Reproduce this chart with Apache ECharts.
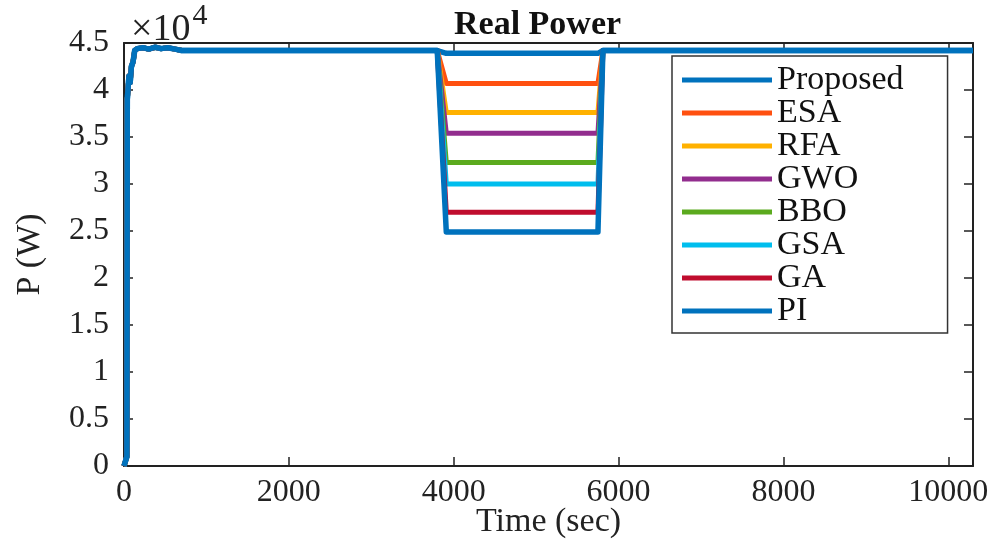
<!DOCTYPE html>
<html>
<head>
<meta charset="utf-8">
<script src="https://cdn.jsdelivr.net/npm/echarts@6/dist/echarts.min.js"></script>
<style>
  html, body { margin: 0; padding: 0; background: #fff; }
  #chart { width: 1008px; height: 540px; }
</style>
</head>
<body>
<div id="chart"></div>
<script>
// time axis shared by every method (sec)
var time = [0, 35, 40, 60, 75, 90, 110, 130, 160, 230, 300, 380, 450, 530, 620, 700, 3800, 3910, 5750, 5810, 10300];

// start-up transient, same for all methods (W)
var startup = [0, 1000, 39000, 41500, 40800, 42500, 43000, 44200, 44400, 44500, 44350, 44550, 44400, 44500, 44350, 44200];

// level held during the disturbance (W)
var steady = 44200;
var names = ['Proposed', 'ESA', 'RFA', 'GWO', 'BBO', 'GSA', 'GA', 'PI'];
var dipLevel = [43900, 40700, 37600, 35400, 32300, 30000, 27000, 24900];
var colors = ['#0072BD', '#FF5010', '#FFB100', '#922D8E', '#5BAA1E', '#00BEEE', '#C00D2E', '#0072BD'];

var xTicks = { min: 0, max: 10300, interval: 2000 };
var yTicks = { min: 0, max: 45000, interval: 5000 };

var serif = 'Liberation Serif';

var series = [];
names.forEach(function (name, k) {
    var values = startup.concat([steady, dipLevel[k], dipLevel[k], steady, steady]);
    var data = [];
    for (var i = 0; i < time.length; i++) {
        data.push([time[i], values[i]]);
    }
    series.push({
        name: name,
        type: 'line',
        data: data,
        showSymbol: false,
        symbol: 'none',
        animation: false,
        lineStyle: { color: colors[k], width: k == 7 || k == 0 ? 5.5 : 5, join: 'round' },
        itemStyle: { color: colors[k] }
    });
});

var chart = echarts.init(document.getElementById('chart'));

var axisLine = { show: true, onZero: false, lineStyle: { color: '#222', width: 2 } };
var axisTick = { show: true, inside: true, length: 9, lineStyle: { color: '#222', width: 1.5 } };

var option = {
    backgroundColor: '#fff',
    title: [{
        text: 'Real Power',
        left: 449,
        top: 3,
        textStyle: { fontFamily: serif, fontWeight: 'bold', fontSize: 34, color: '#111' }
    }, {
        text: '{a|×10}{b|4}',
        left: 126,
        top: -6,
        textStyle: {
            fontWeight: 'normal',
            rich: {
                a: { fontFamily: serif, fontSize: 38, fontWeight: 'normal', color: '#222', padding: [12, 0, 0, 0] },
                b: { fontFamily: serif, fontSize: 30, fontWeight: 'normal', color: '#222', padding: [0, 0, 16, 2] }
            }
        }
    }],
    grid: { left: 124, right: 35, top: 43, bottom: 74, outerBoundsMode: 'none', containLabel: false },
    legend: {
        data: names,
        orient: 'vertical',
        left: 672,
        top: 56,
        icon: 'rect',
        itemWidth: 90,
        itemHeight: 5,
        itemGap: -1,
        padding: [7, 44, 5, 10],
        backgroundColor: '#fff',
        borderColor: '#333',
        borderWidth: 1.5,
        borderRadius: 0,
        textStyle: { fontFamily: serif, fontSize: 34, color: '#111' }
    },
    xAxis: [{
        type: 'value',
        min: xTicks.min,
        max: xTicks.max,
        interval: xTicks.interval,
        name: 'Time (sec)',
        nameLocation: 'middle',
        nameGap: 39,
        nameMoveOverlap: false,
        nameTextStyle: { fontFamily: serif, fontSize: 34, color: '#222' },
        axisLine: axisLine,
        axisTick: axisTick,
        splitLine: { show: false },
        axisLabel: {
            fontFamily: serif, fontSize: 32, color: '#222', margin: 11, showMaxLabel: false,
            formatter: function (v) { return String(v); }
        }
    }, {
        type: 'value',
        position: 'top',
        min: xTicks.min,
        max: xTicks.max,
        interval: xTicks.interval,
        axisLine: axisLine,
        axisTick: axisTick,
        splitLine: { show: false },
        axisLabel: { show: false }
    }],
    yAxis: [{
        type: 'value',
        min: yTicks.min,
        max: yTicks.max,
        interval: yTicks.interval,
        name: 'P (W)',
        nameLocation: 'middle',
        nameGap: 77,
        nameMoveOverlap: false,
        nameTextStyle: { fontFamily: serif, fontSize: 34, color: '#222' },
        axisLine: axisLine,
        axisTick: axisTick,
        splitLine: { show: false },
        axisLabel: {
            fontFamily: serif, fontSize: 32, color: '#222', margin: 15,
            formatter: function (v) { return String(v / 10000); }
        }
    }, {
        type: 'value',
        position: 'right',
        min: yTicks.min,
        max: yTicks.max,
        interval: yTicks.interval,
        axisLine: axisLine,
        axisTick: axisTick,
        splitLine: { show: false },
        axisLabel: { show: false }
    }],
    series: series
};

chart.setOption(option);
</script>
</body>
</html>
